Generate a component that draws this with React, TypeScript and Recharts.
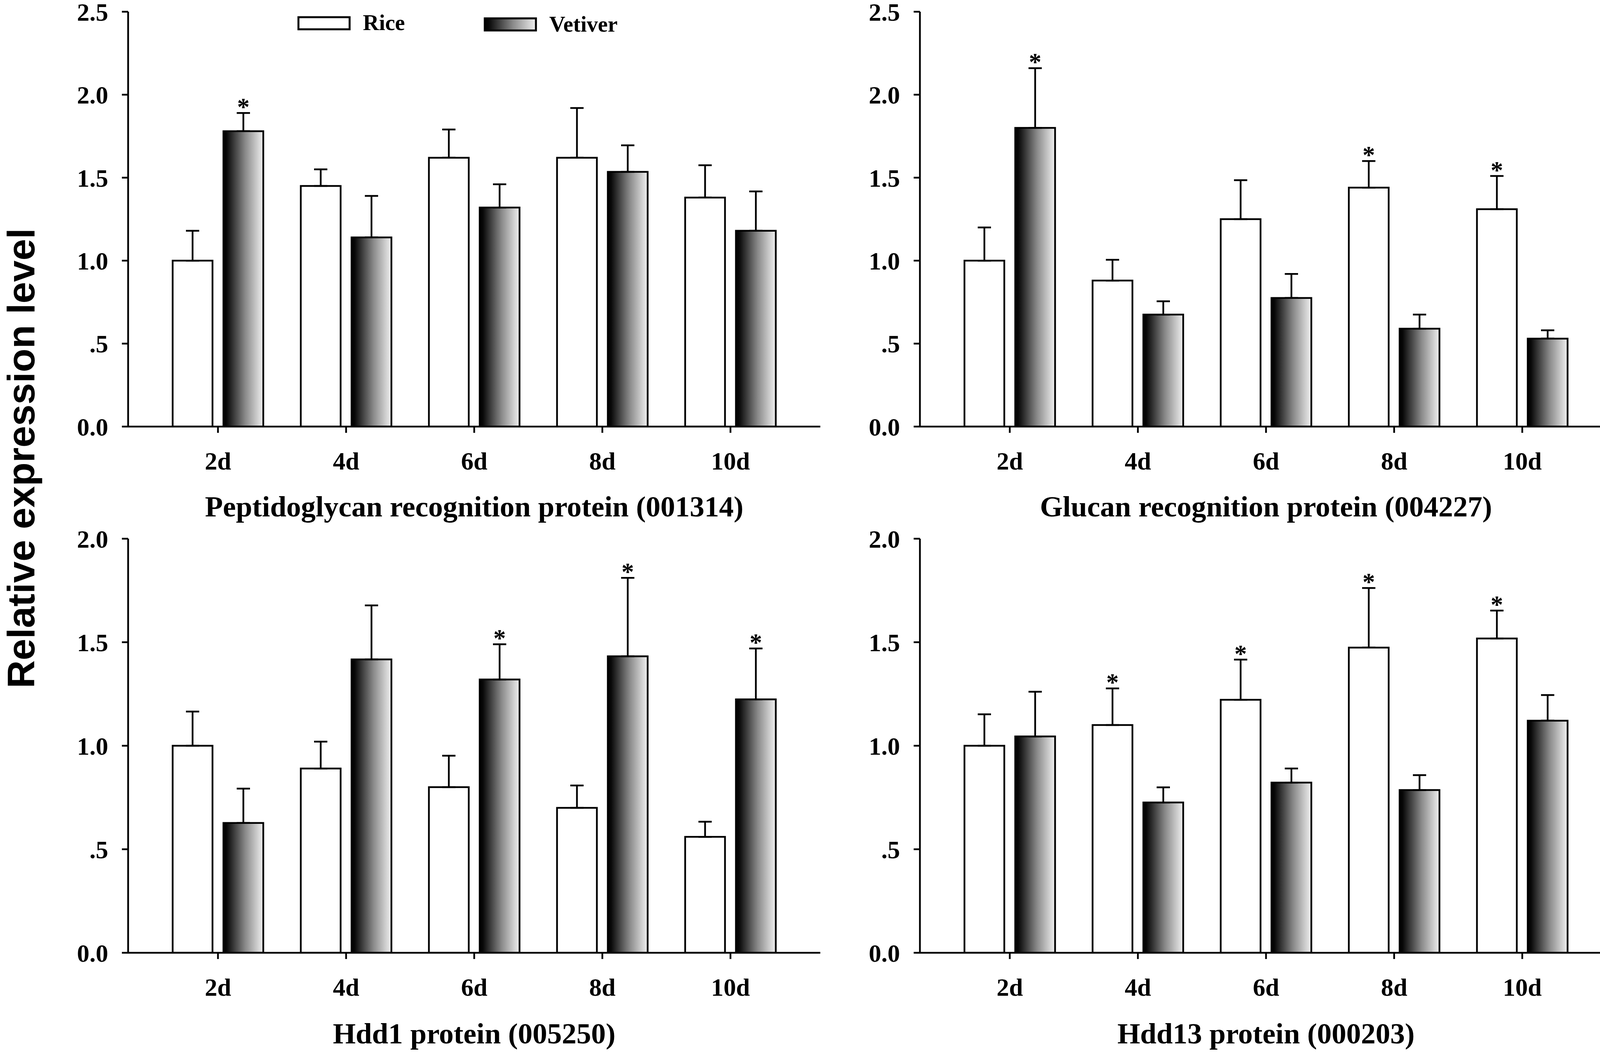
import React from "react";
import { BarChart, Bar, XAxis, YAxis, ErrorBar, Legend } from "recharts";

const DAYS = ["2d", "4d", "6d", "8d", "10d"];

// Peptidoglycan recognition protein (001314)
const PGRP_RICE = [1.0, 1.45, 1.62, 1.62, 1.38];
const PGRP_RICE_ERR = [0.18, 0.1, 0.17, 0.3, 0.195];
const PGRP_VET = [1.78, 1.14, 1.32, 1.535, 1.18];
const PGRP_VET_ERR = [0.11, 0.25, 0.14, 0.16, 0.237];
const PGRP_RICE_STAR = [0, 0, 0, 0, 0];
const PGRP_VET_STAR = [1, 0, 0, 0, 0];

// Glucan recognition protein (004227)
const GRP_RICE = [1.0, 0.88, 1.25, 1.44, 1.31];
const GRP_RICE_ERR = [0.2, 0.125, 0.235, 0.16, 0.2];
const GRP_VET = [1.8, 0.675, 0.775, 0.59, 0.53];
const GRP_VET_ERR = [0.36, 0.08, 0.145, 0.085, 0.05];
const GRP_RICE_STAR = [0, 0, 0, 1, 1];
const GRP_VET_STAR = [1, 0, 0, 0, 0];

// Hdd1 protein (005250)
const HDD1_RICE = [1.0, 0.89, 0.8, 0.7, 0.56];
const HDD1_RICE_ERR = [0.165, 0.13, 0.152, 0.108, 0.073];
const HDD1_VET = [0.627, 1.417, 1.32, 1.432, 1.224];
const HDD1_VET_ERR = [0.166, 0.261, 0.17, 0.379, 0.246];
const HDD1_RICE_STAR = [0, 0, 0, 0, 0];
const HDD1_VET_STAR = [0, 0, 1, 1, 1];

// Hdd13 protein (000203)
const HDD13_RICE = [1.0, 1.1, 1.222, 1.474, 1.518];
const HDD13_RICE_ERR = [0.152, 0.177, 0.194, 0.288, 0.135];
const HDD13_VET = [1.045, 0.726, 0.822, 0.786, 1.121];
const HDD13_VET_ERR = [0.216, 0.073, 0.068, 0.072, 0.124];
const HDD13_RICE_STAR = [0, 1, 1, 1, 1];
const HDD13_VET_STAR = [0, 0, 0, 0, 0];

const TICKS_25 = [0, 0.5, 1, 1.5, 2, 2.5];
const TICKS_20 = [0, 0.5, 1, 1.5, 2];

const SERIES = ["Rice", "Vetiver"];

const SERIF = "'Liberation Serif', 'Times New Roman', serif";
const SANS = "'Liberation Sans', Arial, sans-serif";

const buildRows = (
  rice: number[],
  riceErr: number[],
  vet: number[],
  vetErr: number[],
  riceStar: number[],
  vetStar: number[]
) =>
  DAYS.map((day, i) => ({
    day,
    rice: rice[i],
    riceErr: [0, riceErr[i]],
    vet: vet[i],
    vetErr: [0, vetErr[i]],
    riceStar: riceStar[i],
    vetStar: vetStar[i],
  }));

const fmtTick = (v: number) => (v === 0 ? "0.0" : v === 0.5 ? ".5" : v.toFixed(1));

const Gradient = ({ id }: { id: string }) => (
  <linearGradient id={id} x1="0" y1="0" x2="1" y2="0">
    <stop offset="0%" stopColor="#000" />
    <stop offset="8%" stopColor="#080808" />
    <stop offset="55%" stopColor="#8a8a8a" />
    <stop offset="100%" stopColor="#f0f0f0" />
  </linearGradient>
);

// bar rect plus the significance star above its error bar
const barShape = (valueKey: string, errKey: string, starKey: string, fill: string) => (props: any) => {
  const { x, y, width, height, payload } = props;
  if (!payload || !height) return <g />;
  const value = payload[valueKey];
  const err = payload[errKey][1];
  const top = y - (err * height) / value;
  return (
    <g>
      <rect x={x} y={y} width={width} height={height} fill={fill} stroke="#000" strokeWidth={4.5} />
      {payload[starKey] ? (
        <text
          x={x + width / 2}
          y={top + 6}
          textAnchor="middle"
          fontFamily={SERIF}
          fontWeight="bold"
          fontSize={64}
          fill="#000"
        >
          *
        </text>
      ) : null}
    </g>
  );
};

const LEGEND_X = [764, 1241];

const LegendBoxes = () => (
  <svg width={1700} height={110}>
    <defs>
      <Gradient id="legendGrad" />
    </defs>
    {SERIES.map((name, i) => (
      <g key={name}>
        <rect
          x={LEGEND_X[i]}
          y={44 + i * 3}
          width={131}
          height={31}
          fill={i === 0 ? "#fff" : "url(#legendGrad)"}
          stroke="#000"
          strokeWidth={5}
        />
        <text
          x={LEGEND_X[i] + 165}
          y={77 + i * 4}
          fontFamily={SERIF}
          fontWeight="bold"
          fontSize={57}
          fill="#000"
        >
          {name}
        </text>
      </g>
    ))}
  </svg>
);

type PanelProps = {
  id: string;
  rows: ReturnType<typeof buildRows>;
  title: string;
  yMax: number;
  ticks: number[];
  left: number;
  top: number;
  height: number;
  marginTop: number;
  axisHeight: number;
  titleOffset: number;
  legend?: boolean;
};

function Panel(p: PanelProps) {
  const gradId = `vetGrad-${p.id}`;
  const axisStyle = { stroke: "#000", strokeWidth: 4.5 };
  const tickFont = { fontSize: 64, fontFamily: SERIF, fontWeight: "bold", fill: "#000" };
  return (
    <div style={{ position: "absolute", left: p.left, top: p.top }}>
      <BarChart
        width={2110}
        height={p.height}
        data={p.rows}
        margin={{ top: p.marginTop, right: 10, bottom: 0, left: 0 }}
        barSize={102}
        barGap={28}
      >
        <defs>
          <Gradient id={gradId} />
        </defs>
        <XAxis
          dataKey="day"
          padding={{ left: 66, right: 66 }}
          height={p.axisHeight}
          axisLine={axisStyle}
          tickLine={axisStyle}
          tickSize={16}
          tickMargin={49}
          tick={tickFont}
          interval={0}
          label={{
            value: p.title,
            position: "insideBottom",
            offset: p.titleOffset,
            fontSize: 75,
            fontFamily: SERIF,
            fontWeight: "bold",
            fill: "#000",
          }}
        />
        <YAxis
          domain={[0, p.yMax]}
          ticks={p.ticks}
          interval={0}
          allowDataOverflow
          width={328}
          axisLine={axisStyle}
          tickLine={axisStyle}
          tickSize={16}
          tickMargin={35}
          tick={tickFont}
          tickFormatter={fmtTick}
        />
        {p.legend ? (
          <Legend
            verticalAlign="middle"
            align="center"
            content={<LegendBoxes />}
            wrapperStyle={{ position: "absolute", left: 0, top: 0, width: 1700, height: 110 }}
          />
        ) : null}
        <Bar
          dataKey="rice"
          name="Rice"
          fill="#fff"
          isAnimationActive={false}
          shape={barShape("rice", "riceErr", "riceStar", "#fff")}
        >
          <ErrorBar dataKey="riceErr" width={17} strokeWidth={4.5} stroke="#000" direction="y" />
        </Bar>
        <Bar
          dataKey="vet"
          name="Vetiver"
          fill={`url(#${gradId})`}
          isAnimationActive={false}
          shape={barShape("vet", "vetErr", "vetStar", `url(#${gradId})`)}
        >
          <ErrorBar dataKey="vetErr" width={17} strokeWidth={4.5} stroke="#000" direction="y" />
        </Bar>
      </BarChart>
    </div>
  );
}

export default function App() {
  const pgrp = buildRows(PGRP_RICE, PGRP_RICE_ERR, PGRP_VET, PGRP_VET_ERR, PGRP_RICE_STAR, PGRP_VET_STAR);
  const grp = buildRows(GRP_RICE, GRP_RICE_ERR, GRP_VET, GRP_VET_ERR, GRP_RICE_STAR, GRP_VET_STAR);
  const hdd1 = buildRows(HDD1_RICE, HDD1_RICE_ERR, HDD1_VET, HDD1_VET_ERR, HDD1_RICE_STAR, HDD1_VET_STAR);
  const hdd13 = buildRows(HDD13_RICE, HDD13_RICE_ERR, HDD13_VET, HDD13_VET_ERR, HDD13_RICE_STAR, HDD13_VET_STAR);

  const topRow = { height: 1340, marginTop: 30, axisHeight: 248, titleOffset: 18, top: 0, yMax: 2.5, ticks: TICKS_25 };
  const bottomRow = { height: 1353, marginTop: 39, axisHeight: 254, titleOffset: 22, top: 1340, yMax: 2, ticks: TICKS_20 };

  return (
    <div
      style={{
        position: "absolute",
        left: 0,
        top: 0,
        width: 4137,
        height: 2693,
        background: "#fff",
        overflow: "hidden",
      }}
    >
      <Panel id="p1" rows={pgrp} title="Peptidoglycan recognition protein (001314)" left={0} legend {...topRow} />
      <Panel id="p2" rows={grp} title="Glucan recognition protein (004227)" left={2027} {...topRow} />
      <Panel id="p3" rows={hdd1} title="Hdd1 protein (005250)" left={0} {...bottomRow} />
      <Panel id="p4" rows={hdd13} title="Hdd13 protein (000203)" left={2027} {...bottomRow} />
      <svg
        width={130}
        height={2693}
        style={{ position: "absolute", left: 0, top: 0, pointerEvents: "none" }}
      >
        <text
          transform="translate(88,1173) rotate(-90)"
          textAnchor="middle"
          fontFamily={SANS}
          fontWeight="bold"
          fontSize={99}
          fill="#000"
        >
          Relative expression level
        </text>
      </svg>
    </div>
  );
}
